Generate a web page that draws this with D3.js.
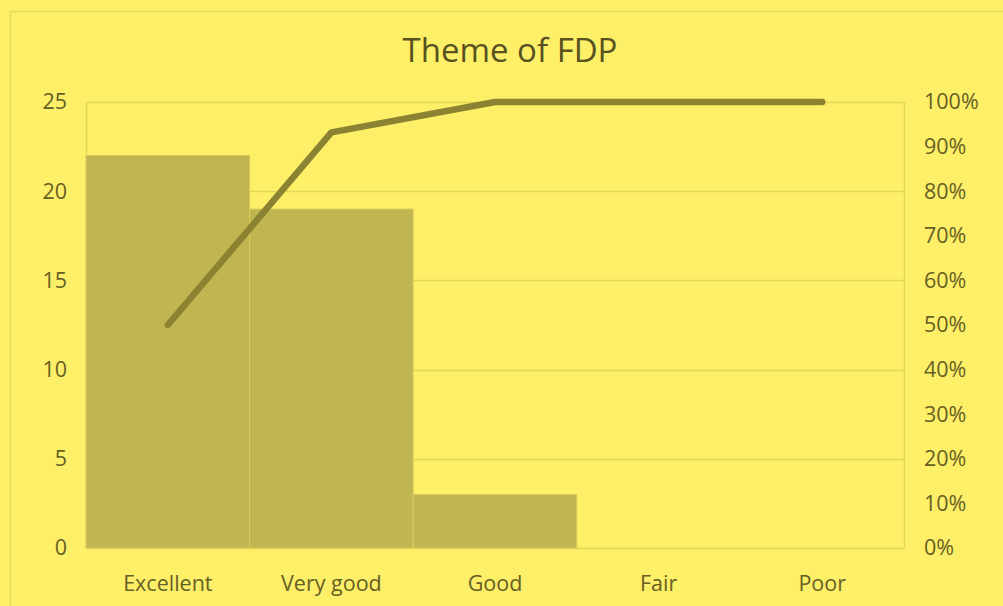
<!DOCTYPE html>
<html>
<head>
<meta charset="utf-8">
<script src="https://cdn.jsdelivr.net/npm/d3@7"></script>
<style>
  body { margin: 0; background: #fdef68; }
  svg { display: block; font-family: "Open Sans", sans-serif; }
</style>
</head>
<body>
<svg id="chart" width="1003" height="606"></svg>
<script>
// Data
const categories = ["Excellent", "Very good", "Good", "Fair", "Poor"];
const counts = [22, 19, 3, 0, 0];
const leftTicks = [0, 5, 10, 15, 20, 25];
const rightTicks = [0, 0.1, 0.2, 0.3, 0.4, 0.5, 0.6, 0.7, 0.8, 0.9, 1];

// cumulative share for the pareto line
const total = d3.sum(counts);
let run = 0;
const cumulative = counts.map((c) => (run += c) / total);

const svg = d3.select("#chart");
const margin = { left: 86, right: 99, top: 102, bottom: 58 };
const width = 1003 - margin.left - margin.right;
const height = 606 - margin.top - margin.bottom;

// outer chart border
svg.append("rect")
  .attr("x", 10.5).attr("y", 11.5)
  .attr("width", 1003).attr("height", 606)
  .attr("fill", "none").attr("stroke", "#e6d95c").attr("stroke-width", 1.5);

// title
svg.append("text")
  .attr("x", 510).attr("y", 62)
  .attr("text-anchor", "middle")
  .attr("font-size", 33)
  .attr("fill", "#57521f")
  .text("Theme of FDP");

const g = svg.append("g").attr("transform", `translate(${margin.left},${margin.top})`);

const x = d3.scaleBand().domain(categories).range([0, width]).padding(0);
const y = d3.scaleLinear().domain([0, 25]).range([height, 0]);
const y2 = d3.scaleLinear().domain([0, 1]).range([height, 0]);

// gridlines
g.selectAll(".grid")
  .data(leftTicks)
  .enter()
  .append("line")
  .attr("x1", 0).attr("x2", width)
  .attr("y1", (d) => Math.round(y(d)) + 0.5)
  .attr("y2", (d) => Math.round(y(d)) + 0.5)
  .attr("stroke", "#e3d55a").attr("stroke-width", 1.5);

// plot frame sides
[0, width].forEach((xx) => {
  g.append("line")
    .attr("x1", xx + 0.5).attr("x2", xx + 0.5)
    .attr("y1", 0).attr("y2", height)
    .attr("stroke", "#e3d55a").attr("stroke-width", 1.5);
});

// bars
g.selectAll(".bar")
  .data(categories)
  .enter()
  .append("rect")
  .attr("x", (d) => x(d))
  .attr("y", (d, i) => y(counts[i]))
  .attr("width", x.bandwidth())
  .attr("height", (d, i) => height - y(counts[i]))
  .attr("fill", "#c0b550")
  .attr("stroke", "#d9cc5c")
  .attr("stroke-width", 1);

// cumulative line
const line = d3.line()
  .x((d, i) => x(categories[i]) + x.bandwidth() / 2)
  .y((d) => y2(d));

g.append("path")
  .datum(cumulative)
  .attr("d", line)
  .attr("fill", "none")
  .attr("stroke", "#8b8232")
  .attr("stroke-width", 6.5)
  .attr("stroke-linecap", "round")
  .attr("stroke-linejoin", "round");

// axes (labels only)
const textColor = "#666024";
const leftAxis = g.append("g")
  .call(d3.axisLeft(y).tickValues(leftTicks).tickSize(0).tickPadding(19));
const rightAxis = g.append("g")
  .attr("transform", `translate(${width},0)`)
  .call(d3.axisRight(y2).tickValues(rightTicks).tickSize(0).tickPadding(20)
    .tickFormat(d3.format(".0%")));
const bottomAxis = g.append("g")
  .attr("transform", `translate(0,${height})`)
  .call(d3.axisBottom(x).tickSize(0).tickPadding(28));

[leftAxis, rightAxis, bottomAxis].forEach((a) => {
  a.select(".domain").remove();
  a.selectAll("text")
    .attr("font-family", "'Open Sans', sans-serif")
    .attr("font-size", 21.5)
    .attr("fill", textColor);
});
</script>
</body>
</html>
